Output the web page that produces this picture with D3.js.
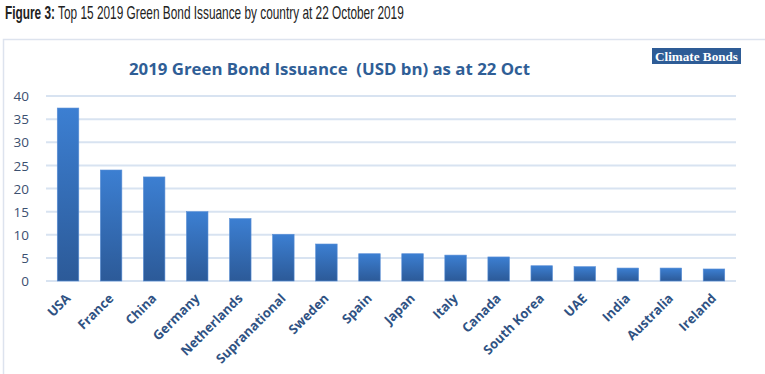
<html>
<head>
<meta charset="utf-8">
<title>Green Bond Issuance 2019</title>
<script src="https://d3js.org/d3.v7.min.js"></script>
<style>
  body { margin: 0; background: #fff; }
  .axis text { font-family: "Open Sans", sans-serif; }
</style>
</head>
<body>
<div id="chart"></div>
<script>
// data
var countries = ["USA", "France", "China", "Germany", "Netherlands", "Supranational", "Sweden",
                 "Spain", "Japan", "Italy", "Canada", "South Korea", "UAE", "India", "Australia", "Ireland"];
var issuance = [37.4, 24.0, 22.5, 15.0, 13.5, 10.1, 8.0, 5.9, 5.9, 5.6, 5.2, 3.3, 3.1, 2.8, 2.8, 2.6];
var yTicks = [0, 5, 10, 15, 20, 25, 30, 35, 40];

var W = 765, H = 374;
var svg = d3.select("#chart").append("svg").attr("width", W).attr("height", H);

// figure caption (the source is a bit condensed, so squeeze it to its width)
var capG = svg.append("g");
var cap = capG.append("text").attr("x", 0).attr("y", 0)
  .style("font-family", "'Liberation Sans Narrow', 'Liberation Sans', Arial, sans-serif")
  .style("font-size", "17.5px").style("fill", "#222");
cap.append("tspan").style("font-weight", "bold").text("Figure 3:");
cap.append("tspan").text(" Top 15 2019 Green Bond Issuance by country at 22 October 2019");
var capW = cap.node().getComputedTextLength();
capG.attr("transform", "translate(5,19) scale(" + (399 / capW) + ",1)");

// frame
svg.append("path").attr("d", "M3.5," + H + "V39.5H" + W)
  .attr("fill", "none").attr("stroke", "#dde3ee").attr("stroke-width", 1.5);

// logo
var logo = svg.append("g").attr("transform", "translate(652,48)");
logo.append("rect").attr("width", 89).attr("height", 16).attr("fill", "#2e5c96");
logo.append("text").attr("x", 44.5).attr("y", 12.5).attr("text-anchor", "middle")
  .attr("textLength", 83).attr("lengthAdjust", "spacingAndGlyphs")
  .style("font-family", "'Liberation Serif', 'DejaVu Serif', serif").style("font-weight", "bold")
  .style("font-size", "13.5px").style("fill", "#fff").text("Climate Bonds");

// chart title
svg.append("text").attr("x", 329.5).attr("y", 75).attr("text-anchor", "middle")
  .attr("textLength", 401).attr("lengthAdjust", "spacingAndGlyphs")
  .style("font-family", "'Open Sans', sans-serif").style("font-weight", "bold")
  .style("font-size", "16.5px").style("fill", "#2f5e96")
  .text("2019 Green Bond Issuance\u00a0\u00a0(USD bn) as at 22 Oct");

var x = d3.scaleBand().domain(countries).range([46.5, 735.5]).paddingInner(0.5).paddingOuter(0.25);
var y = d3.scaleLinear().domain([0, 40]).range([281, 96]);

// gradient for bars
var grad = svg.append("defs").append("linearGradient").attr("id", "barGrad")
  .attr("x1", 0).attr("y1", 0).attr("x2", 0).attr("y2", 1);
grad.append("stop").attr("offset", "0%").attr("stop-color", "#3c7fd2");
grad.append("stop").attr("offset", "100%").attr("stop-color", "#2c5a98");

// gridlines
svg.append("g").selectAll("line").data(yTicks).enter().append("line")
  .attr("x1", 46).attr("x2", 736)
  .attr("y1", function (d) { return y(d); }).attr("y2", function (d) { return y(d); })
  .attr("stroke", "#d8e3f1").attr("stroke-width", 2);

// y axis labels
var yAxis = svg.append("g").attr("class", "axis").attr("transform", "translate(29,0)")
  .call(d3.axisLeft(y).tickValues(yTicks).tickSize(0).tickPadding(0));
yAxis.select(".domain").remove();
yAxis.selectAll("text").style("font-size", "13.5px").style("fill", "#3c5070").attr("dy", "0.35em");

// bars
svg.append("g").selectAll("rect").data(issuance).enter().append("rect")
  .attr("x", function (d, i) { return x(countries[i]); })
  .attr("y", function (d) { return y(d); })
  .attr("width", x.bandwidth())
  .attr("height", function (d) { return y(0) - y(d); })
  .attr("fill", "url(#barGrad)")
  .attr("stroke", "#5b8fd6").attr("stroke-width", 0.6);

// x axis labels
var xAxis = svg.append("g").attr("class", "axis").attr("transform", "translate(0,296)")
  .call(d3.axisBottom(x).tickSize(0).tickPadding(0));
xAxis.select(".domain").remove();
xAxis.selectAll("text")
  .style("font-size", "13px").style("font-weight", "bold").style("fill", "#2f5283")
  .attr("text-anchor", "end").attr("dy", "0.35em").attr("y", 0).attr("x", 0)
  .attr("transform", "translate(0,0) rotate(-45)");
</script>
</body>
</html>
